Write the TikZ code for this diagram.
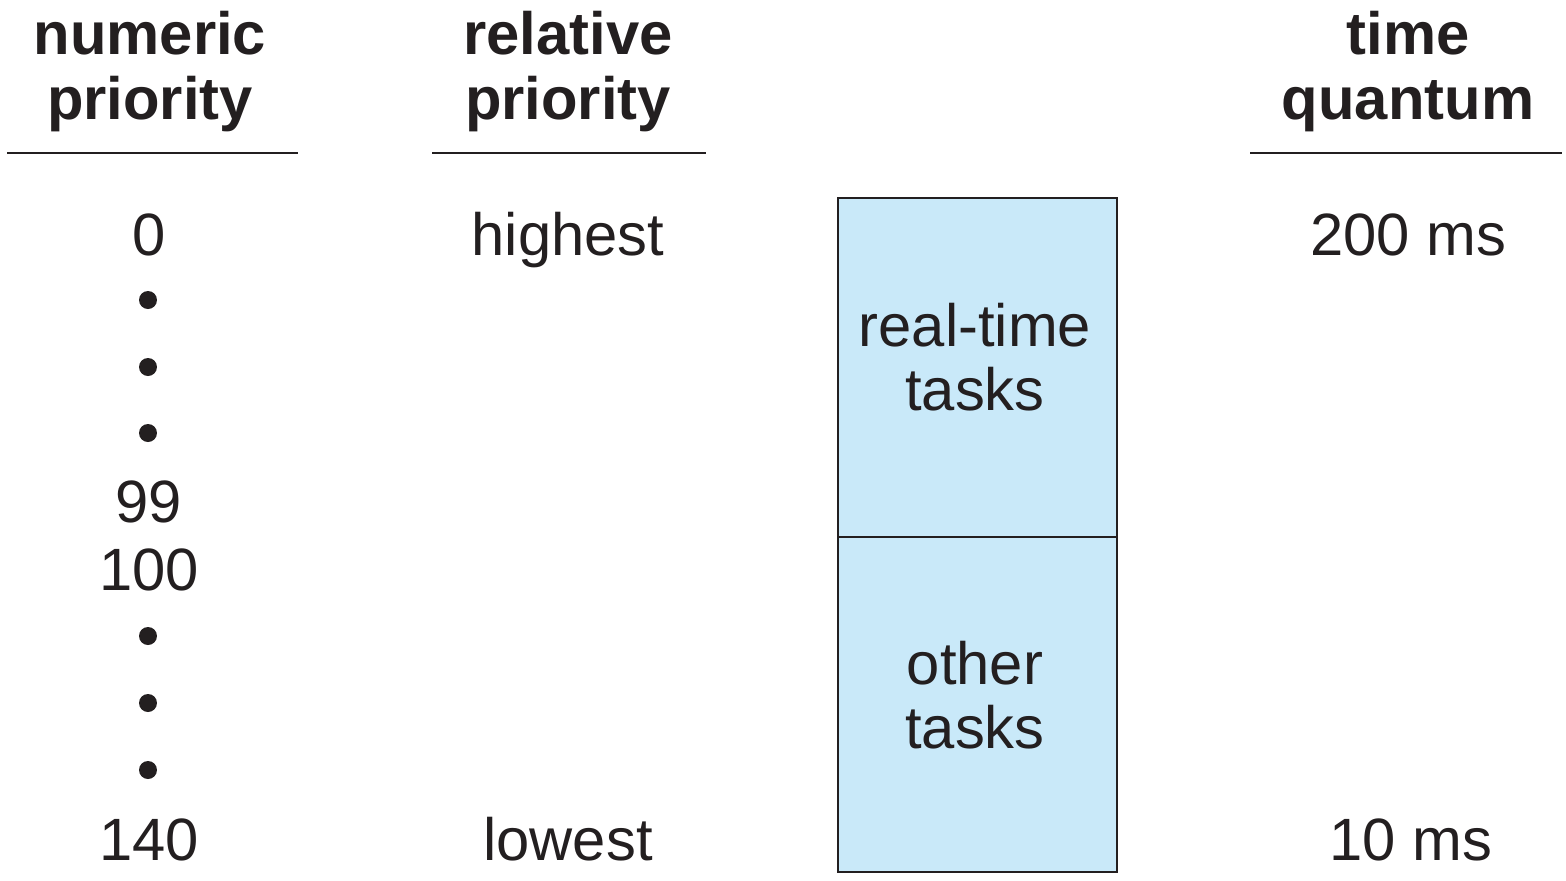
\documentclass[tikz,border=0pt]{standalone}
\usepackage{fontspec}
\setmainfont{Liberation Sans}
\definecolor{boxblue}{HTML}{C9E9F9}
\definecolor{ink}{HTML}{231F20}
\begin{document}
\begin{tikzpicture}[x=0.02cm,y=-0.02cm,
  txt/.style={anchor=base,inner sep=0pt,text=ink,font=\fontsize{34}{40}\selectfont},
  hdr/.style={txt,font=\fontsize{34}{40}\selectfont\bfseries},
  rule/.style={draw=ink,line width=1.2pt},
  dot/.style={circle,fill=ink,inner sep=0pt,minimum size=0.36cm},
  taskbox/.style={draw=ink,line width=1.2pt,fill=boxblue}]
\useasboundingbox (0,0) rectangle (1566,880);
% headers
\node[hdr] (h1a) at (150,54) {numeric};
\node[hdr] (h1b) at (150,119) {priority};
\node[hdr] (h2a) at (568,54) {relative};
\node[hdr] (h2b) at (568,119) {priority};
\node[hdr] (h4a) at (1408,54) {time};
\node[hdr] (h4b) at (1408,119) {quantum};
\coordinate (r1a) at (7,153); \coordinate (r1b) at (298,153);
\coordinate (r2a) at (432,153); \coordinate (r2b) at (706,153);
\coordinate (r4a) at (1250,153); \coordinate (r4b) at (1562,153);
\draw[rule] (r1a) -- (r1b);
\draw[rule] (r2a) -- (r2b);
\draw[rule] (r4a) -- (r4b);
% numeric column
\node[txt] (n0) at (149,255) {0};
\node[dot] (d1) at (148,300) {};
\node[dot] (d2) at (148,367) {};
\node[dot] (d3) at (148,433) {};
\node[txt] (n99) at (149,522) {99};
\node[txt] (n100) at (149,590) {100};
\node[dot] (d4) at (148,636) {};
\node[dot] (d5) at (148,703) {};
\node[dot] (d6) at (148,770) {};
\node[txt] (n140) at (149,860) {140};
% relative column
\node[txt] (hi) at (568,255) {highest};
\node[txt] (lo) at (568,860) {lowest};
% time quantum column
\node[txt] (q1) at (1408,255) {200 ms};
\node[txt] (q2) at (1411,860) {10 ms};
% box
\draw[taskbox] (838,198) rectangle (1117,537);
\draw[taskbox] (838,537) rectangle (1117,872);
\node[txt] (rt1) at (975,346) {real-time};
\node[txt] (rt2) at (975,410) {tasks};
\node[txt] (ot1) at (975,684) {other};
\node[txt] (ot2) at (975,748) {tasks};
\end{tikzpicture}
\end{document}
